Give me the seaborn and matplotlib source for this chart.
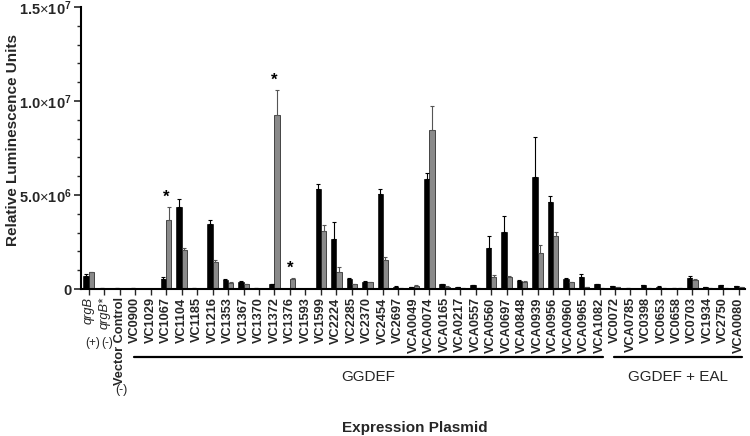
import numpy as np
import pandas as pd
import matplotlib
matplotlib.use("Agg")
import matplotlib.pyplot as plt
import matplotlib.transforms as mtransforms
from matplotlib.ticker import MultipleLocator
import seaborn as sns

# ---------------- data (values in units of 10^6 RLU) ----------------
plasmids = ["qrgB", "qrgB*", "Vector Control",
            "VC0900", "VC1029", "VC1067", "VC1104", "VC1185", "VC1216", "VC1353",
            "VC1367", "VC1370", "VC1372", "VC1376", "VC1593", "VC1599", "VC2224",
            "VC2285", "VC2370", "VC2454", "VC2697", "VCA0049", "VCA0074", "VCA0165",
            "VCA0217", "VCA0557", "VCA0560", "VCA0697", "VCA0848", "VCA0939",
            "VCA0956", "VCA0960", "VCA0965", "VCA1082",
            "VC0072", "VCA0785", "VC0398", "VC0653", "VC0658", "VC0703", "VC1934",
            "VC2750", "VCA0080"]

black_vals = [0.68, 0.05, 0.04,
              0.03, 0.02, 0.55, 4.36, 0.03, 3.46, 0.48,
              0.37, 0.03, 0.25, 0.02, 0.01, 5.30, 2.66,
              0.55, 0.39, 5.05, 0.12, 0.10, 5.85, 0.25,
              0.10, 0.20, 2.18, 3.03, 0.43, 5.94,
              4.63, 0.55, 0.64, 0.25,
              0.15, 0.05, 0.20, 0.12, 0.03, 0.58, 0.10,
              0.20, 0.15]
black_err = [0.10, 0.0, 0.0,
             0.0, 0.0, 0.08, 0.43, 0.0, 0.20, 0.05,
             0.05, 0.0, 0.03, 0.0, 0.0, 0.27, 0.90,
             0.03, 0.02, 0.27, 0.02, 0.0, 0.32, 0.03,
             0.0, 0.03, 0.64, 0.85, 0.05, 2.15,
             0.32, 0.03, 0.16, 0.03,
             0.02, 0.0, 0.03, 0.02, 0.0, 0.12, 0.02,
             0.03, 0.02]

gray_vals = [0.88, 0.0, 0.0,
             0.0, 0.0, 3.67, 2.10, 0.0, 1.44, 0.32,
             0.27, 0.0, 9.25, 0.55, 0.0, 3.09, 0.90,
             0.27, 0.36, 1.54, 0.03, 0.18, 8.46, 0.12,
             0.03, 0.05, 0.64, 0.64, 0.39, 1.91,
             2.82, 0.37, 0.10, 0.05,
             0.10, 0.02, 0.05, 0.05, 0.03, 0.48, 0.05,
             0.05, 0.10]
gray_err = [0.02, 0.0, 0.0,
            0.0, 0.0, 0.70, 0.08, 0.0, 0.10, 0.03,
            0.02, 0.0, 1.35, 0.03, 0.0, 0.30, 0.27,
            0.02, 0.02, 0.16, 0.0, 0.02, 1.27, 0.02,
            0.0, 0.0, 0.08, 0.06, 0.05, 0.43,
            0.21, 0.02, 0.02, 0.0,
            0.0, 0.0, 0.0, 0.0, 0.0, 0.03, 0.0,
            0.0, 0.0]

significant = ["VC1067", "VC1372", "VC1376"]

groups = [("GGDEF", "VC0900", "VCA1082"), ("GGDEF + EAL", "VC0072", "VCA0080")]

y_ticks = [0, 5, 10, 15]
y_ticklabels = ["0", r"$\mathbf{5.0}{\times}\mathbf{10^{6}}$",
                r"$\mathbf{1.0}{\times}\mathbf{10^{7}}$",
                r"$\mathbf{1.5}{\times}\mathbf{10^{7}}$"]

# ---------------- styling ----------------
sns.set_theme(style="ticks")
plt.rcParams["font.family"] = ["Liberation Sans", "DejaVu Sans"]
plt.rcParams["mathtext.fontset"] = "custom"
plt.rcParams["mathtext.rm"] = "Liberation Sans"
plt.rcParams["mathtext.bf"] = "Liberation Sans:bold"
plt.rcParams["mathtext.it"] = "Liberation Sans:italic"

W, H = 750, 436
fig = plt.figure(figsize=(W / 100, H / 100), dpi=100)
ax = fig.add_axes([81 / W, (H - 289) / H, (745 - 81) / W, (289 - 7) / H])

df = pd.DataFrame({
    "plasmid": plasmids * 2,
    "value": black_vals + gray_vals,
    "cond": ["A"] * len(plasmids) + ["B"] * len(plasmids),
})

sns.barplot(data=df, x="plasmid", y="value", hue="cond", order=plasmids,
            hue_order=["A", "B"], palette=["#000000", "#8a8a8a"], saturation=1,
            width=0.68, gap=0, errorbar=None, edgecolor="#111111", linewidth=0.5,
            legend=False, ax=ax)

# error bars (upper only)
for cont, errs, col in [(ax.containers[0], black_err, "#000000"),
                        (ax.containers[1], gray_err, "#555555")]:
    xs = [p.get_x() + p.get_width() / 2 for p in cont.patches]
    hs = [p.get_height() for p in cont.patches]
    e = np.array(errs)
    ax.errorbar(xs, hs, yerr=[np.zeros_like(e), e], fmt="none", ecolor=col,
                elinewidth=0.8, capsize=1.5, capthick=0.8)

# significance stars over gray bars
for name in significant:
    i = plasmids.index(name)
    top = gray_vals[i] + gray_err[i]
    ax.text(i, top + 0.5, "*", ha="center", va="center", fontsize=12,
            fontweight="bold", color="black")

ax.set_xlim(-0.5, 42.4)
ax.set_ylim(0, 15)
ax.set_yticks(y_ticks)
ax.set_yticklabels(y_ticklabels, fontsize=10.5, fontweight="bold")
ax.yaxis.set_minor_locator(MultipleLocator(1))
ax.tick_params(axis="y", which="major", length=5, width=1.2, pad=2)
ax.tick_params(axis="y", which="minor", length=3, width=1.0)
ax.tick_params(axis="x", which="major", length=4, width=1.0, pad=2)

ax.set_xticks(range(len(plasmids)))
ax.set_xticklabels(plasmids, rotation=90, fontsize=9.2, fontweight="bold")
for lbl in ax.get_xticklabels()[:2]:
    lbl.set_fontstyle("italic")
    lbl.set_fontweight("normal")

ax.set_xlabel("")
ax.set_ylabel("")
for s in ["top", "right"]:
    ax.spines[s].set_visible(False)
for s in ["left", "bottom"]:
    ax.spines[s].set_linewidth(1.5)
    ax.spines[s].set_color("black")
ax.grid(False)

# group brackets and labels under tick labels
blend = mtransforms.blended_transform_factory(ax.transData, fig.transFigure)
def fy(px):
    return 1 - px / H

for text, first, last in groups:
    i0, i1 = plasmids.index(first), plasmids.index(last)
    ax.plot([i0 - 0.05, i1 + 0.2], [fy(357), fy(357)], transform=blend,
            color="black", lw=1.6, clip_on=False)
    ax.text((i0 + i1) / 2 + 0.05, fy(377), text, transform=blend, ha="center",
            va="center", fontsize=11)

ax.text(0.27, fy(343), "(+)", transform=blend, ha="center", va="center", fontsize=8.5)
ax.text(1.17, fy(343), "(-)", transform=blend, ha="center", va="center", fontsize=8.5)
ax.text(2.1, fy(390), "(-)", transform=blend, ha="center", va="center", fontsize=9)

fig.text(415 / W, fy(428), "Expression Plasmid", ha="center", va="center",
         fontsize=11, fontweight="bold")
fig.text(13 / W, fy(140), "Relative Luminescence Units", ha="center", va="center",
         rotation=90, fontsize=11, fontweight="bold")

fig.savefig("out.png", dpi=100)
